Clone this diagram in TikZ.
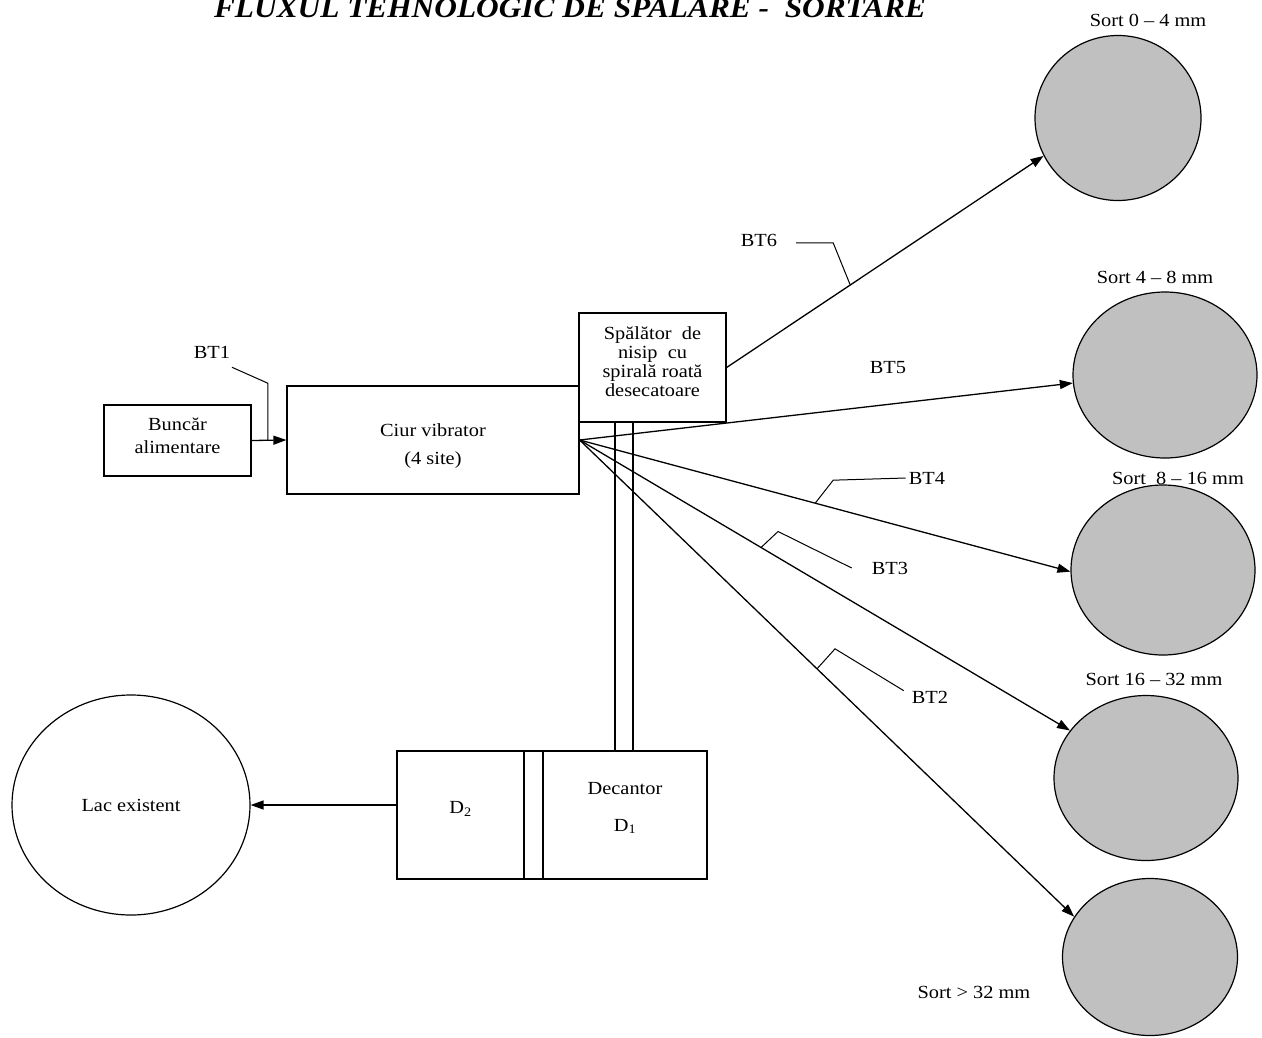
\documentclass[tikz,border=0pt]{standalone}
\usepackage{fontspec}
\setmainfont{Liberation Serif}[FakeStretch=1.1]
\usetikzlibrary{arrows.meta}
\usetikzlibrary{shapes.geometric}
\usetikzlibrary{calc}
\definecolor{sortgray}{RGB}{192,192,192}

\begin{document}
\begin{tikzpicture}[x=1pt, y=-1pt,
  box/.style={draw, line width=1.2pt, inner sep=0pt},
  boxtext/.style={inner sep=0pt, align=center, font=\fontsize{18.5}{23}\selectfont},
  sortel/.style={draw, ellipse, line width=1.2pt, fill=sortgray, inner sep=0pt},
  flow/.style={line width=1.3pt, -{Triangle[length=13pt,width=9pt]}},
  lead/.style={line width=1pt},
  lbl/.style={inner sep=0pt, font=\fontsize{18.5}{22}\selectfont}]
\fill[white] (0,0) rectangle (1262,1037);
\useasboundingbox (0,0) rectangle (1262,1037);

% titlu
\node[anchor=base, font=\fontsize{28.5}{32}\selectfont\bfseries\itshape] (titlu) at (570,17) {FLUXUL TEHNOLOGIC DE SPALARE - \ SORTARE};

% utilaje
\node[box, minimum width=147pt, minimum height=71pt,
  label={[boxtext, yshift=5pt]center:{Buncăr\\alimentare}}] (buncar) at (177.5,440.5) {};
\node[box, minimum width=292pt, minimum height=108pt,
  label={[boxtext, yshift=-6pt, font=\fontsize{18.5}{28}\selectfont]center:{Ciur vibrator\\(4 site)}}] (ciur) at (433,440) {};
\node[box, minimum width=147pt, minimum height=109pt,
  label={[boxtext, yshift=6pt, font=\fontsize{18.5}{19}\selectfont]center:{Spălător \ de\\nisip \ cu\\spirală roată\\desecatoare}}] (spal) at (652.5,367.5) {};
\node[box, minimum width=127pt, minimum height=128pt,
  label={[boxtext, yshift=6pt]center:{D\textsubscript{2}}}] (d2) at (460.5,815) {};
\node[box, minimum width=19pt, minimum height=128pt] (dmij) at (533.5,815) {};
\node[box, minimum width=164pt, minimum height=128pt,
  label={[boxtext, yshift=7pt, font=\fontsize{18.5}{37}\selectfont]center:{Decantor\\D\textsubscript{1}}}] (d1) at (625,815) {};
\node[box, ellipse, minimum width=238pt, minimum height=220pt, font=\fontsize{18.5}{22}\selectfont] (lac) at (131,805) {Lac existent};

% sorturi
\node[sortel, minimum width=166pt, minimum height=165pt] (sort04) at (1118,118) {};
\node[sortel, minimum width=184pt, minimum height=166pt] (sort48) at (1165,375) {};
\node[sortel, minimum width=184pt, minimum height=170pt] (sort816) at (1163,570) {};
\node[sortel, minimum width=184pt, minimum height=165pt] (sort1632) at (1146,778) {};
\node[sortel, minimum width=175pt, minimum height=157pt] (sort32) at (1150,957) {};

\node[lbl] (l04) at (1148,20) {Sort 0 – 4 mm};
\node[lbl] (l48) at (1155,277) {Sort 4 – 8 mm};
\node[lbl] (l816) at (1178,478) {Sort \ 8 – 16 mm};
\node[lbl] (l1632) at (1154,679) {Sort 16 – 32 mm};
\node[lbl] (l32) at (974,992) {Sort > 32 mm};

% benzi transportoare
\node[lbl] (bt1) at (212,352) {BT1};
\node[lbl] (bt2) at (930,697) {BT2};
\node[lbl] (bt3) at (890,568) {BT3};
\node[lbl] (bt4) at (927,478) {BT4};
\node[lbl] (bt5) at (888,368) {BT5};
\node[lbl] (bt6) at (759,240) {BT6};

\draw[flow] (buncar.east) -- coordinate[pos=0.47] (p1) (ciur.west);
\draw[flow] (spal.east) -- coordinate[pos=0.39] (p6) (sort04.207);
\draw[flow] (ciur.east) -- (sort48.185);
\draw[flow] (ciur.east) -- coordinate[pos=0.48] (p4) (sort816.181);
\draw[flow] (ciur.east) -- coordinate[pos=0.37] (p3) (sort1632.148);
\draw[flow] (ciur.east) -- coordinate[pos=0.48] (p2) (sort32.152);
\draw[flow] (lac.east -| d2.west) -- (lac.east);

% conducte spre decantor
\foreach \x in {615,633} {
  \coordinate (c) at (\x,0);
  \draw[line width=1.2pt] (spal.south -| c) -- (d1.north -| c);
}

% indicatoare
\draw[lead] (p1) -- ++(0,-57) -- ++(-36,-16);
\draw[lead] (p6) -- ++(-17,-42) -- ++(-37,0);
\draw[lead] (p4) -- ++(18,-23) -- ([xshift=-3pt]bt4.west);
\draw[lead] (p3) -- ++(17,-16) -- ([xshift=-20pt]bt3.west);
\draw[lead] (p2) -- ++(18,-20) -- ([xshift=-8pt]bt2.north west);
\end{tikzpicture}
\end{document}
